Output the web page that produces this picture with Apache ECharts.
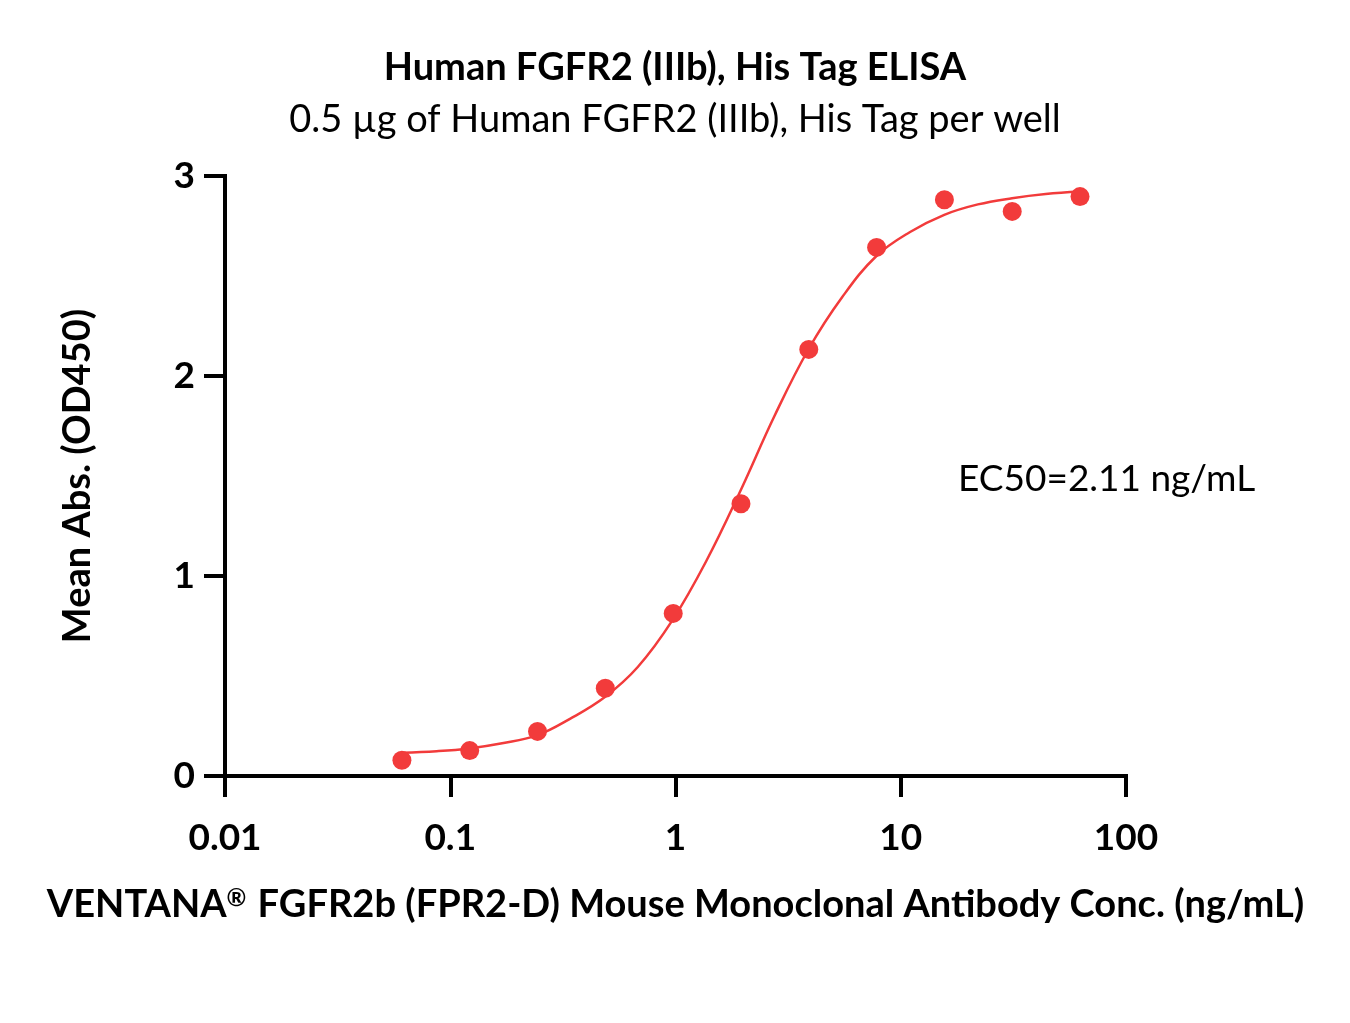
<!DOCTYPE html>
<html>
<head>
<meta charset="utf-8">
<script src="https://cdn.jsdelivr.net/npm/echarts@6/dist/echarts.min.js"></script>
<style>
html,body{margin:0;padding:0;background:#fff;}
#c{width:1350px;height:1023px;}
</style>
</head>
<body>
<div id="c"></div>
<script>
// Measured points: concentration (ng/mL) and mean absorbance (OD450)
const concentrations = [0.061, 0.122, 0.244, 0.488, 0.977, 1.953, 3.906, 7.8125, 15.625, 31.25, 62.5];
const meanAbs = [0.079, 0.127, 0.223, 0.439, 0.813, 1.361, 2.133, 2.643, 2.881, 2.823, 2.897];

// Fitted curve
const curveX = [0.061, 0.087, 0.121, 0.17, 0.242, 0.34, 0.486, 0.68, 0.968, 1.37, 1.95, 2.75, 3.9, 5.5, 7.8, 11, 15.6, 22, 31.2, 44, 62.5];
const curveY = [0.116, 0.124, 0.138, 0.164, 0.203, 0.286, 0.395, 0.545, 0.778, 1.075, 1.43, 1.80, 2.135, 2.395, 2.60, 2.72, 2.806, 2.858, 2.889, 2.910, 2.922];

const xTicks = [0.01, 0.1, 1, 10, 100];
const yTicks = [0, 1, 2, 3];

const titleText = 'Human FGFR2 (IIIb), His Tag ELISA';
const subtitleText = '0.5 µg of Human FGFR2 (IIIb), His Tag per well';
const xName = 'VENTANA{sup|®} FGFR2b (FPR2-D) Mouse Monoclonal Antibody Conc. (ng/mL)';
const yName = 'Mean Abs. (OD450)';
const ec50Text = 'EC50=2.11 ng/mL';

const RED = '#F23B3B';
const FONT = 'Lato';

const chart = echarts.init(document.getElementById('c'), null, {renderer: 'canvas'});
chart.setOption({
  backgroundColor: '#fff',
  animation: false,
  title: [
    {text: titleText, left: 'center', top: 44, textStyle: {fontFamily: FONT, fontWeight: 'bold', fontSize: 38, color: '#000'}},
    {text: subtitleText, left: 'center', top: 96, textStyle: {fontFamily: FONT, fontWeight: 'normal', fontSize: 38, color: '#000'}}
  ],
  grid: {left: 225, right: 224, top: 176, bottom: 247, containLabel: false},
  xAxis: {
    type: 'log', logBase: 10, min: xTicks[0], max: xTicks[xTicks.length - 1],
    name: xName, nameLocation: 'middle', nameGap: 110,
    nameTextStyle: {fontFamily: FONT, fontWeight: 'bold', fontSize: 38, color: '#000',
      rich: {sup: {fontFamily: FONT, fontWeight: 'bold', fontSize: 24, color: '#000', verticalAlign: 'top', padding: [0, 2, 12, 0]}}},
    axisLine: {show: true, onZero: false, lineStyle: {color: '#000', width: 4, cap: 'square'}},
    axisTick: {show: true, inside: false, length: 21, lineStyle: {color: '#000', width: 4}},
    minorTick: {show: false},
    splitLine: {show: false},
    axisLabel: {margin: 44, fontFamily: FONT, fontWeight: 'bold', fontSize: 37, color: '#000',
      formatter: v => String(+(+v).toPrecision(3))}
  },
  yAxis: {
    type: 'value', min: yTicks[0], max: yTicks[yTicks.length - 1], interval: 1,
    name: yName, nameLocation: 'middle', nameGap: 128,
    nameTextStyle: {fontFamily: FONT, fontWeight: 'bold', fontSize: 38, color: '#000'},
    axisLine: {show: true, lineStyle: {color: '#000', width: 4, cap: 'square'}},
    axisTick: {show: true, inside: false, length: 21, lineStyle: {color: '#000', width: 4}},
    splitLine: {show: false},
    axisLabel: {margin: 30, fontFamily: FONT, fontWeight: 'bold', fontSize: 37, color: '#000'}
  },
  graphic: [
    {type: 'text', left: 958, top: 461, style: {text: ec50Text, fontFamily: FONT, fontSize: 37, fill: '#000'}}
  ],
  series: [
    {type: 'line', data: curveX.map((x, i) => [x, curveY[i]]), smooth: 0.4, showSymbol: false,
     lineStyle: {color: RED, width: 2.5}, z: 2},
    {type: 'scatter', data: concentrations.map((x, i) => [x, meanAbs[i]]), symbol: 'circle', symbolSize: 19,
     itemStyle: {color: RED, opacity: 1}, z: 3}
  ]
});
</script>
</body>
</html>
